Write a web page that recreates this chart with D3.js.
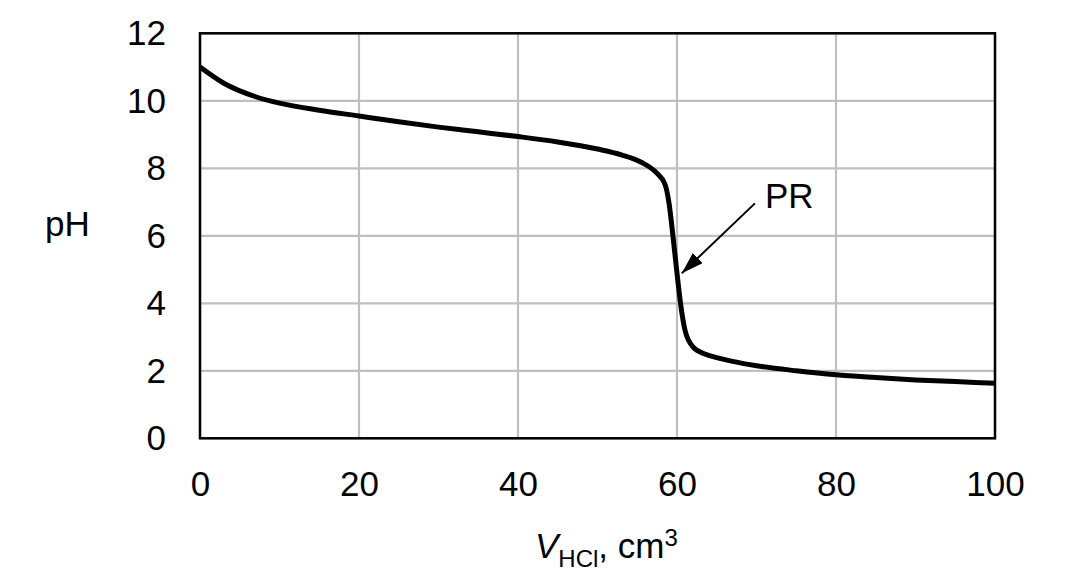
<!DOCTYPE html>
<html>
<head>
<meta charset="utf-8">
<script src="https://cdn.jsdelivr.net/npm/d3@7"></script>
<style>
  body { margin: 0; background: #fff; }
  text { font-family: "Liberation Sans", Arial, Helvetica, sans-serif; fill: #000; }
</style>
</head>
<body>
<svg id="chart" width="1075" height="588"></svg>
<script>
// titration curve
const volume = [0, 3, 7, 10, 15, 20, 25, 30, 35, 40, 45, 50, 53, 55.5, 57.4, 58.5, 59, 59.5, 60, 60.5, 61, 62, 63.5, 65, 67, 70, 75, 80, 85, 90, 95, 100];
const ph = [11.0, 10.52, 10.12, 9.93, 9.72, 9.55, 9.38, 9.22, 9.08, 8.94, 8.78, 8.57, 8.4, 8.18, 7.87, 7.52, 6.96, 5.97, 4.89, 3.9, 3.21, 2.71, 2.5, 2.39, 2.28, 2.15, 2.0, 1.88, 1.8, 1.73, 1.68, 1.63];

const xTicks = [0, 20, 40, 60, 80, 100];
const yTicks = [0, 2, 4, 6, 8, 10, 12];

// arrow pointing at the equivalence point
const arrowFrom = [69.8, 6.96];
const arrowTo = [60.6, 4.89];
const arrowLabel = "PR";

const margin = { top: 33.3, right: 80, bottom: 149.7, left: 200 };
const width = 1075 - margin.left - margin.right;
const height = 588 - margin.top - margin.bottom;

const svg = d3.select('#chart');
const g = svg.append('g')
  .attr('transform', 'translate(' + margin.left + ',' + margin.top + ')');

const x = d3.scaleLinear().domain([0, 100]).range([0, width]);
const y = d3.scaleLinear().domain([0, 12]).range([height, 0]);

// grid lines
g.append('g')
  .selectAll('line.vgrid')
  .data(xTicks)
  .join('line')
  .attr('x1', d => x(d)).attr('x2', d => x(d))
  .attr('y1', 0).attr('y2', height)
  .attr('stroke', '#bfbfbf')
  .attr('stroke-width', 2.2);

g.append('g')
  .selectAll('line.hgrid')
  .data(yTicks)
  .join('line')
  .attr('x1', 0).attr('x2', width)
  .attr('y1', d => y(d)).attr('y2', d => y(d))
  .attr('stroke', '#bfbfbf')
  .attr('stroke-width', 2.2);

// axes (labels only)
const xAxis = g.append('g')
  .attr('transform', 'translate(0,' + height + ')')
  .call(d3.axisBottom(x).tickValues(xTicks).tickSize(0).tickPadding(33));
const yAxis = g.append('g')
  .call(d3.axisLeft(y).tickValues(yTicks).tickSize(0).tickPadding(34));

[xAxis, yAxis].forEach(a => {
  a.select('.domain').remove();
  a.selectAll('text')
    .style('font-size', '35px')
    .attr('fill', '#000')
    .style('font-family', '"Liberation Sans", Arial, sans-serif');
});

// plot frame
g.append('rect')
  .attr('x', 0).attr('y', 0)
  .attr('width', width).attr('height', height)
  .attr('fill', 'none')
  .attr('stroke', '#000')
  .attr('stroke-width', 2.5);

// curve
const points = volume.map((v, i) => [v, ph[i]]);
const line = d3.line()
  .x(d => x(d[0]))
  .y(d => y(d[1]))
  .curve(d3.curveMonotoneX);

g.append('path')
  .datum(points)
  .attr('d', line)
  .attr('fill', 'none')
  .attr('stroke', '#000')
  .attr('stroke-width', 5)
  .attr('stroke-linejoin', 'round');

// arrow
svg.append('defs').append('marker')
  .attr('id', 'head')
  .attr('viewBox', '0 0 10 10')
  .attr('preserveAspectRatio', 'none')
  .attr('refX', 10).attr('refY', 5)
  .attr('markerWidth', 11).attr('markerHeight', 7)
  .attr('markerUnits', 'strokeWidth')
  .attr('orient', 'auto')
  .append('path')
  .attr('d', 'M0,0 L10,5 L0,10 Z')
  .attr('fill', '#000');

g.append('line')
  .attr('x1', x(arrowFrom[0])).attr('y1', y(arrowFrom[1]))
  .attr('x2', x(arrowTo[0])).attr('y2', y(arrowTo[1]))
  .attr('stroke', '#000')
  .attr('stroke-width', 2)
  .attr('marker-end', 'url(#head)');

g.append('text')
  .attr('x', x(arrowFrom[0]) + 10)
  .attr('y', y(arrowFrom[1]) + 5)
  .style('font-size', '35px')
  .text(arrowLabel);

// axis titles
svg.append('text')
  .attr('x', 45).attr('y', 236)
  .style('font-size', '35px')
  .text('pH');

const xt = svg.append('text')
  .attr('x', 535).attr('y', 558)
  .style('font-size', '35px');
xt.append('tspan').style('font-style', 'italic').text('V');
xt.append('tspan').attr('dy', 9).style('font-size', '24px').text('HCl');
xt.append('tspan').attr('dy', -9).text(', cm');
xt.append('tspan').attr('dy', -12).style('font-size', '24px').text('3');
</script>
</body>
</html>
